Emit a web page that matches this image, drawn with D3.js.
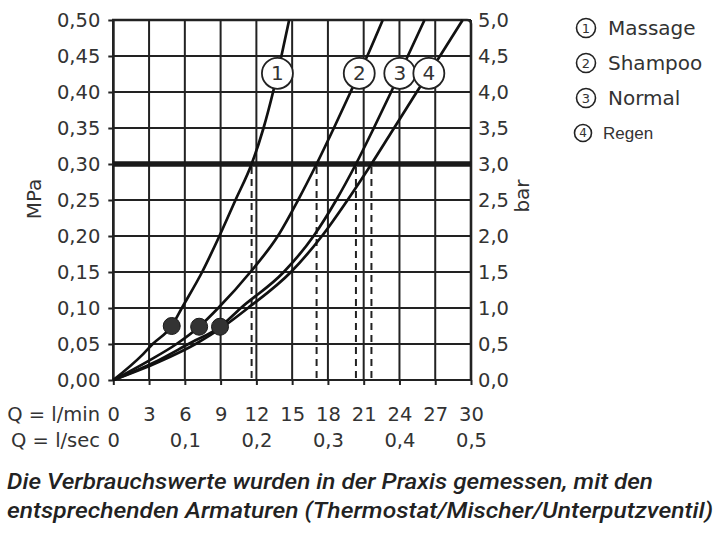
<!DOCTYPE html>
<html>
<head>
<meta charset="utf-8">
<script src="https://cdn.jsdelivr.net/npm/d3@7"></script>
<style>
  html, body { margin: 0; padding: 0; background: #fff; }
  svg { display: block; }
  .lbl { font-family: "DejaVu Sans", sans-serif; fill: #333; }
</style>
</head>
<body>
<svg id="chart" width="720" height="534"></svg>
<script>
// ── DATA ────────────────────────────────────────────────────
// flow Q (l/min), pressure p (MPa)
const massage = [[0,0],[2.5,0.036],[3.3,0.05],[4.9,0.075],[5.75,0.10],[7.45,0.15],[8.9,0.20],[10.25,0.25],[11.6,0.30],[12.6,0.35],[13.4,0.40],[14.1,0.45],[14.75,0.50]];
const shampoo = [[0,0],[3.0,0.027],[5.3,0.05],[7.2,0.074],[8.8,0.10],[11.5,0.15],[13.8,0.20],[15.5,0.25],[17.05,0.30],[18.5,0.35],[19.9,0.40],[21.3,0.45],[22.6,0.50]];
const normal  = [[0,0],[3.5,0.025],[6.3,0.05],[8.95,0.074],[10.7,0.10],[14.3,0.15],[16.8,0.20],[18.7,0.25],[20.35,0.30],[21.85,0.35],[23.3,0.40],[24.7,0.45],[26.1,0.50]];
const regen   = [[0,0],[3.8,0.025],[6.9,0.05],[9.3,0.075],[11.3,0.10],[14.9,0.15],[17.5,0.20],[19.65,0.25],[21.65,0.30],[23.55,0.35],[25.45,0.40],[27.4,0.45],[29.3,0.50]];

const seriesNames = ['Massage', 'Shampoo', 'Normal', 'Regen'];
const dotPoints = [[4.9,0.075],[7.2,0.074],[8.95,0.074]];

const refPressure = 0.30;      // thick line + dashed drop lines
const labelPressure = 0.426;   // where the numbered circles sit

const pTicks   = [0,0.05,0.10,0.15,0.20,0.25,0.30,0.35,0.40,0.45,0.50];
const barTicks = [0,0.5,1.0,1.5,2.0,2.5,3.0,3.5,4.0,4.5,5.0];
const qMinTicks = [0,3,6,9,12,15,18,21,24,27,30];
const qSecTicks = [0,0.1,0.2,0.3,0.4,0.5];

const caption = [
  'Die Verbrauchswerte wurden in der Praxis gemessen, mit den',
  'entsprechenden Armaturen (Thermostat/Mischer/Unterputzventil)'
];

// ── SETUP ────────────────────────────────────────────────────
const X0 = 113.3, X1 = 471, Y0 = 380, Y1 = 20;
const INK = '#222';
const svg = d3.select('#chart');
const de = d3.formatLocale({ decimal: ',', thousands: '.', grouping: [3], currency: ['', '€'] });

const x = d3.scaleLinear().domain([0, 30]).range([X0, X1]);
const xSec = d3.scaleLinear().domain([0, 0.5]).range([X0, X1]);
const y = d3.scaleLinear().domain([0, 0.5]).range([Y0, Y1]);
const yBar = d3.scaleLinear().domain([0, 5]).range([Y0, Y1]);

// Q at a given pressure, linear between read points
function qAt(series, p) {
  const i = d3.bisector(d => d[1]).left(series, p);
  if (i <= 0) return series[0][0];
  const a = series[i - 1], b = series[i];
  return a[0] + (b[0] - a[0]) * (p - a[1]) / (b[1] - a[1]);
}

// ── GRID ─────────────────────────────────────────────────────
const grid = svg.append('g');
grid.selectAll('.vg').data(qMinTicks).join('line')
  .attr('x1', d => x(d)).attr('x2', d => x(d))
  .attr('y1', Y1).attr('y2', Y0)
  .attr('stroke', INK).attr('stroke-width', 2);
grid.selectAll('.hg').data(pTicks).join('line')
  .attr('x1', X0).attr('x2', X1)
  .attr('y1', d => y(d)).attr('y2', d => y(d))
  .attr('stroke', INK).attr('stroke-width', 2);

// frame
svg.append('path')
  .attr('d', `M${X0},${Y0}V${Y1}H${X1 - 4}Q${X1},${Y1} ${X1},${Y1 + 4}V${Y0}`)
  .attr('fill', 'none').attr('stroke', INK).attr('stroke-width', 2.6);

// ── AXES ─────────────────────────────────────────────────────
const axL = svg.append('g').attr('transform', `translate(${X0},0)`)
  .call(d3.axisLeft(y).tickValues(pTicks).tickSize(5).tickPadding(8).tickFormat(de.format('.2f')));
const axR = svg.append('g').attr('transform', `translate(${X1},0)`)
  .call(d3.axisRight(yBar).tickValues(barTicks).tickSize(0).tickPadding(7).tickFormat(de.format('.1f')));
const axB = svg.append('g').attr('transform', `translate(0,${Y0})`)
  .call(d3.axisBottom(x).tickValues(qMinTicks).tickSize(5).tickFormat(d3.format('d')));
const axB2 = svg.append('g').attr('transform', `translate(0,${Y0})`)
  .call(d3.axisBottom(xSec).tickValues(qSecTicks).tickSize(0)
    .tickFormat(d => d === 0 ? '0' : de.format('.1f')(d)));

[axL, axR, axB, axB2].forEach(g => {
  g.select('.domain').remove();
  g.selectAll('line').attr('stroke', INK).attr('stroke-width', 2);
  g.selectAll('text').attr('class', 'lbl').attr('fill', null)
    .style('font-size', '19.5px').style('font-family', '"DejaVu Sans", sans-serif');
});
axB.selectAll('text').attr('y', 41).attr('dy', 0);
axB2.selectAll('text').attr('y', 67).attr('dy', 0);

svg.append('text').attr('class', 'lbl').attr('x', 100).attr('y', 421)
  .attr('text-anchor', 'end').style('font-size', '19.5px').text('Q = l/min');
svg.append('text').attr('class', 'lbl').attr('x', 100).attr('y', 447)
  .attr('text-anchor', 'end').style('font-size', '19.5px').text('Q = l/sec');

svg.append('text').attr('class', 'lbl')
  .attr('transform', 'translate(41,199) rotate(-90)')
  .attr('text-anchor', 'middle').style('font-size', '20px').text('MPa');
svg.append('text').attr('class', 'lbl')
  .attr('transform', 'translate(529,196) rotate(-90)')
  .attr('text-anchor', 'middle').style('font-size', '20px').text('bar');

// ── REFERENCE LINES ──────────────────────────────────────────
const allSeries = [massage, shampoo, normal, regen];

svg.append('g').selectAll('line')
  .data(allSeries.map(s => qAt(s, refPressure)))
  .join('line')
  .attr('x1', d => x(d)).attr('x2', d => x(d))
  .attr('y1', y(refPressure) + 3).attr('y2', Y0)
  .attr('stroke', INK).attr('stroke-width', 2)
  .attr('stroke-dasharray', '7,5');

svg.append('line')
  .attr('x1', X0).attr('x2', X1)
  .attr('y1', y(refPressure)).attr('y2', y(refPressure))
  .attr('stroke', '#1a1a1a').attr('stroke-width', 5.5);

// ── CURVES ───────────────────────────────────────────────────
const line = d3.line()
  .x(d => x(d[0])).y(d => y(d[1]))
  .curve(d3.curveMonotoneX);

svg.append('g').selectAll('path')
  .data(allSeries)
  .join('path')
  .attr('d', line)
  .attr('fill', 'none')
  .attr('stroke', '#111')
  .attr('stroke-width', 2.7);

svg.append('g').selectAll('circle')
  .data(dotPoints)
  .join('circle')
  .attr('cx', d => x(d[0])).attr('cy', d => y(d[1]))
  .attr('r', 8.5)
  .attr('fill', '#333').attr('stroke', '#1a1a1a').attr('stroke-width', 1);

// numbered circles on the curves
const tags = svg.append('g').selectAll('g')
  .data(allSeries.map((s, i) => ({ q: qAt(s, labelPressure), n: i + 1 })))
  .join('g')
  .attr('transform', d => `translate(${x(d.q)},${y(labelPressure)})`);
tags.append('circle').attr('r', 15.5)
  .attr('fill', '#fff').attr('stroke', INK).attr('stroke-width', 1.8);
tags.append('text').attr('class', 'lbl')
  .attr('text-anchor', 'middle').attr('dy', '0.36em')
  .style('font-size', '20px').text(d => d.n);

// ── LEGEND ───────────────────────────────────────────────────
const legend = svg.append('g').selectAll('g')
  .data(seriesNames)
  .join('g')
  .attr('transform', (d, i) => `translate(586,${28 + i * 35})`);
legend.append('circle')
  .attr('cx', (d, i) => i === 3 ? -3 : 0)
  .attr('r', (d, i) => i === 3 ? 8.5 : 9.5)
  .attr('fill', 'none').attr('stroke', INK).attr('stroke-width', 1.6);
legend.append('text').attr('class', 'lbl')
  .attr('x', (d, i) => i === 3 ? -3 : 0)
  .attr('text-anchor', 'middle').attr('dy', '0.36em')
  .style('font-size', (d, i) => i === 3 ? '12px' : '13px')
  .text((d, i) => i + 1);
legend.append('text').attr('class', 'lbl')
  .attr('x', (d, i) => i === 3 ? 17 : 22)
  .attr('dy', '0.36em')
  .style('font-family', (d, i) => i === 3 ? '"Liberation Sans", sans-serif' : null)
  .style('font-size', (d, i) => i === 3 ? '17px' : '20px')
  .attr('fill', '#222')
  .text(d => d);

// ── CAPTION ──────────────────────────────────────────────────
svg.append('g').selectAll('text')
  .data(caption)
  .join('text')
  .attr('x', 7)
  .attr('y', (d, i) => 489 + i * 28.5)
  .attr('textLength', (d, i) => i === 0 ? 646 : 706)
  .attr('lengthAdjust', 'spacingAndGlyphs')
  .style('font-family', 'Roboto, sans-serif')
  .style('font-style', 'italic')
  .style('font-weight', 500)
  .style('font-size', '22px')
  .attr('fill', '#222')
  .text(d => d);
</script>
</body>
</html>
